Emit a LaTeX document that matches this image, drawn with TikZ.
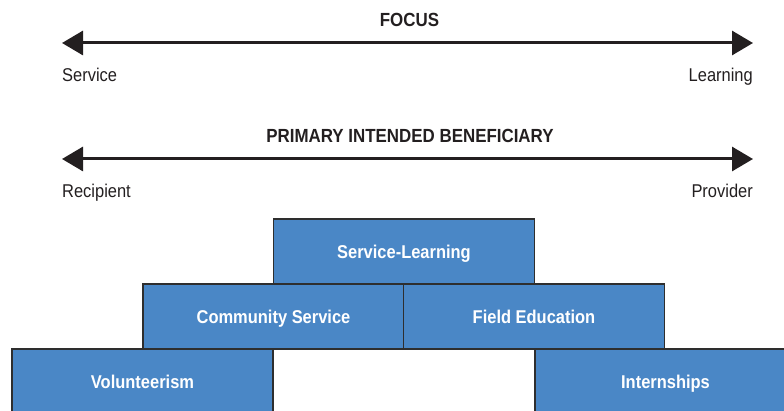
\documentclass[tikz,border=0pt]{standalone}
\usepackage{fontspec}
\setmainfont[FakeStretch=0.89]{Liberation Sans}
\usetikzlibrary{arrows.meta}
\definecolor{boxblue}{HTML}{4A87C6}
\definecolor{ink}{HTML}{231F20}
\definecolor{edge}{HTML}{2E2E2E}
\tikzset{
  axis/.style={line width=3pt, draw=ink, {Triangle[length=21pt,width=24pt]}-{Triangle[length=21pt,width=24pt]}},
  axlabel/.style={font=\fontsize{18.5}{20}\selectfont, text=ink, inner sep=0pt},
  axtitle/.style={font=\fontsize{19}{20}\selectfont\bfseries, text=ink, inner sep=0pt},
  blk/.style={draw=edge, line width=1.1pt, fill=boxblue, minimum width=261pt, minimum height=65pt, inner sep=0pt,
    text height=13.8pt, text depth=0pt,
    text=white, font=\fontsize{18.5}{20}\selectfont\bfseries}
}
\begin{document}
\begin{tikzpicture}[x=1pt,y=-1pt]
\useasboundingbox (0,0) rectangle (784,411);
% FOCUS axis
\node[axtitle, anchor=base] (t1) at (409.5,27) {FOCUS};
\coordinate (f1) at (62,43);
\coordinate (f2) at (753,43);
\draw[axis] (f1) -- (f2);
\node[axlabel, anchor=base west] (s1) at (62,82) {Service};
\node[axlabel, anchor=base east] (l1) at (753,82) {Learning};
% Beneficiary axis
\node[axtitle, anchor=base] (t2) at (410,143) {PRIMARY INTENDED BENEFICIARY};
\coordinate (b1) at (62,159);
\coordinate (b2) at (753,159);
\draw[axis] (b1) -- (b2);
\node[axlabel, anchor=base west] (r1) at (62,198) {Recipient};
\node[axlabel, anchor=base east] (p1) at (753,198) {Provider};
% Blocks
\node[blk] (sl) at (404,251.5) {Service-Learning};
\node[blk] (cs) at (273.5,316.5) {Community Service};
\node[blk] (fe) at (534,316.5) {Field Education};
\node[blk] (vo) at (142.5,381.5) {Volunteerism};
\node[blk] (in) at (665.5,381.5) {Internships};
\end{tikzpicture}
\end{document}
